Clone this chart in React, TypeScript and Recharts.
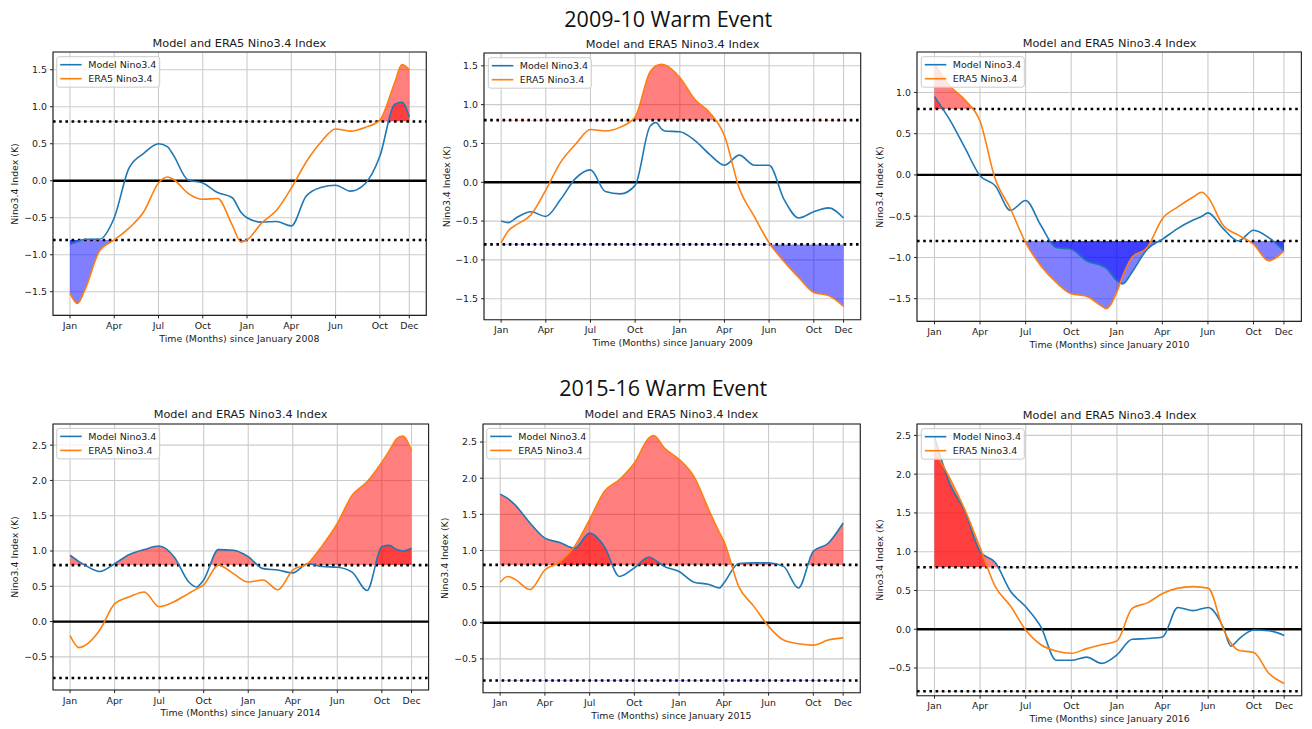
import React from 'react';
import {
  ComposedChart,
  Line,
  Area,
  XAxis,
  YAxis,
  CartesianGrid,
  ReferenceLine,
  ReferenceArea,
} from 'recharts';

// ---------- shared axis data ----------
const MONTH_TICKS = [0, 3, 6, 9, 12, 15, 18, 21, 23];
const MONTH_LABELS = ['Jan', 'Apr', 'Jul', 'Oct', 'Jan', 'Apr', 'Jun', 'Oct', 'Dec'];
const TICKS_A = [-1.5, -1, -0.5, 0, 0.5, 1, 1.5];
const TICKS_B = [-1.5, -1, -0.5, 0, 0.5, 1];
const TICKS_C = [-0.5, 0, 0.5, 1, 1.5, 2, 2.5];
const THRESHOLD = 0.8;
const SUPTITLES = ['2009-10 Warm Event', '2015-16 Warm Event'];
const PANEL_TITLE = 'Model and ERA5 Nino3.4 Index';
const Y_LABEL = 'Nino3.4 Index (K)';
const SERIES_NAMES = ['Model Nino3.4', 'ERA5 Nino3.4'];

// ---------- panel 1: since January 2008 ----------
const P1_T = [0, 0.5, 1, 2, 3, 4, 5, 6, 6.6, 7, 8, 9, 10, 11, 11.6, 12, 13, 14, 15, 16, 17, 18, 19, 20, 21, 22, 22.5, 23];
const P1_MODEL = [-0.86, -0.82, -0.79, -0.79, -0.5, 0.17, 0.37, 0.5, 0.46, 0.35, 0.01, -0.03, -0.16, -0.23, -0.43, -0.5, -0.56, -0.55, -0.61, -0.21, -0.09, -0.06, -0.14, -0.04, 0.33, 1.03, 1.06, 0.86];
const P1_ERA5 = [-1.52, -1.66, -1.48, -0.95, -0.8, -0.64, -0.42, -0.03, 0.05, 0.02, -0.17, -0.25, -0.24, -0.6, -0.83, -0.8, -0.57, -0.4, -0.1, 0.25, 0.52, 0.7, 0.67, 0.72, 0.82, 1.32, 1.57, 1.5];

// ---------- panel 2: since January 2009 ----------
const P2_T = [0, 0.5, 1, 2, 3, 4, 5, 6, 7, 8, 9, 10, 10.4, 10.8, 11, 12, 13, 14, 15, 16, 17, 18, 19, 20, 21, 22, 23];
const P2_MODEL = [-0.5, -0.52, -0.46, -0.38, -0.44, -0.22, 0.05, 0.16, -0.12, -0.15, -0.04, 0.72, 0.77, 0.68, 0.66, 0.65, 0.54, 0.36, 0.22, 0.35, 0.22, 0.22, -0.22, -0.46, -0.38, -0.33, -0.46];
const P2_ERA5 = [-0.78, -0.62, -0.55, -0.42, -0.1, 0.26, 0.49, 0.68, 0.66, 0.71, 0.84, 1.42, 1.5, 1.52, 1.51, 1.35, 1.07, 0.9, 0.6, -0.08, -0.44, -0.78, -1.02, -1.23, -1.42, -1.46, -1.6];

// ---------- panel 3: since January 2010 ----------
const P3_T = [0, 1, 2, 3, 4, 5, 6, 7, 8, 9, 10, 11, 11.3, 12, 12.4, 13, 14, 15, 16, 17, 17.6, 18, 19, 20, 21, 22, 23];
const P3_MODEL = [0.95, 0.67, 0.33, -0.01, -0.13, -0.43, -0.31, -0.61, -0.88, -0.9, -1.04, -1.1, -1.13, -1.28, -1.32, -1.18, -0.9, -0.78, -0.65, -0.55, -0.5, -0.46, -0.65, -0.8, -0.67, -0.76, -0.92];
const P3_ERA5 = [1.35, 1.08, 0.91, 0.65, -0.05, -0.41, -0.82, -1.1, -1.3, -1.44, -1.47, -1.59, -1.62, -1.42, -1.22, -1.0, -0.88, -0.53, -0.39, -0.27, -0.21, -0.27, -0.61, -0.73, -0.84, -1.04, -0.92];

// ---------- panel 4: since January 2014 ----------
const P4_T = [0, 0.6, 1, 2, 3, 4, 5, 6, 7, 8, 8.5, 9, 10, 11, 12, 13, 14, 15, 16, 17, 18, 19, 20, 21, 21.5, 22, 22.4, 23];
const P4_MODEL = [0.94, 0.85, 0.8, 0.71, 0.82, 0.95, 1.02, 1.07, 0.92, 0.56, 0.49, 0.59, 1.02, 1.01, 0.92, 0.75, 0.73, 0.69, 0.82, 0.78, 0.77, 0.7, 0.44, 1.06, 1.08, 1.02, 1.0, 1.04];
const P4_ERA5 = [-0.2, -0.37, -0.34, -0.12, 0.25, 0.35, 0.42, 0.21, 0.28, 0.4, 0.46, 0.52, 0.8, 0.68, 0.56, 0.59, 0.45, 0.73, 0.82, 1.08, 1.39, 1.79, 1.98, 2.26, 2.42, 2.59, 2.63, 2.42];

// ---------- panel 5: since January 2015 ----------
const P5_T = [0, 0.5, 1, 2, 3, 4, 5, 6, 7, 8, 9, 10, 10.3, 11, 12, 13, 14, 14.7, 15, 16, 17, 18, 19, 20, 21, 22, 23];
const P5_MODEL = [1.78, 1.72, 1.63, 1.38, 1.17, 1.11, 1.03, 1.24, 1.05, 0.64, 0.76, 0.91, 0.88, 0.78, 0.71, 0.56, 0.53, 0.48, 0.55, 0.82, 0.83, 0.83, 0.78, 0.48, 0.99, 1.1, 1.38];
const P5_ERA5 = [0.56, 0.64, 0.6, 0.46, 0.73, 0.84, 1.06, 1.43, 1.82, 1.98, 2.21, 2.56, 2.59, 2.42, 2.26, 2.02, 1.56, 1.25, 1.13, 0.5, 0.23, -0.05, -0.24, -0.29, -0.31, -0.24, -0.21];

// ---------- panel 6: since January 2016 ----------
const P6_T = [0, 1, 2, 3, 4, 5, 6, 7, 8, 9, 10, 11, 12, 13, 14, 15, 16, 17, 18, 19, 19.5, 20, 21, 22, 23];
const P6_MODEL = [2.48, 1.88, 1.52, 1.0, 0.86, 0.49, 0.29, 0.03, -0.4, -0.4, -0.36, -0.44, -0.33, -0.13, -0.12, -0.1, 0.28, 0.24, 0.28, 0.02, -0.22, -0.13, -0.01, -0.02, -0.08];
const P6_ERA5 = [2.3, 1.95, 1.54, 1.05, 0.55, 0.3, -0.01, -0.2, -0.28, -0.31, -0.25, -0.2, -0.15, 0.27, 0.34, 0.46, 0.53, 0.55, 0.53, 0.0, -0.18, -0.27, -0.3, -0.57, -0.7];

const X_DOMAIN: [number, number] = [-1.15, 24.15];
const FONT = "'DejaVu Sans', sans-serif";
const BLUE = '#1f77b4';
const ORANGE = '#ff7f0e';

type PanelSpec = {
  id: string;
  box: [number, number, number, number];
  yDomain: [number, number];
  yTicks: number[];
  t: number[];
  model: number[];
  era5: number[];
  year: string;
};

const PANELS: PanelSpec[] = [
  { id: 'p1', box: [52.7, 52.3, 426, 315.7], yDomain: [-1.82, 1.74], yTicks: TICKS_A, t: P1_T, model: P1_MODEL, era5: P1_ERA5, year: '2008' },
  { id: 'p2', box: [484.3, 53.3, 861, 320], yDomain: [-1.77, 1.665], yTicks: TICKS_A, t: P2_T, model: P2_MODEL, era5: P2_ERA5, year: '2009' },
  { id: 'p3', box: [917.3, 52.3, 1301.7, 321.7], yDomain: [-1.775, 1.49], yTicks: TICKS_B, t: P3_T, model: P3_MODEL, era5: P3_ERA5, year: '2010' },
  { id: 'p4', box: [52.7, 424, 428.3, 690], yDomain: [-0.97, 2.8], yTicks: TICKS_C, t: P4_T, model: P4_MODEL, era5: P4_ERA5, year: '2014' },
  { id: 'p5', box: [482.7, 424, 860, 692.7], yDomain: [-0.968, 2.75], yTicks: TICKS_C, t: P5_T, model: P5_MODEL, era5: P5_ERA5, year: '2015' },
  { id: 'p6', box: [917.3, 424.3, 1302, 696], yDomain: [-0.857, 2.647], yTicks: TICKS_C, t: P6_T, model: P6_MODEL, era5: P6_ERA5, year: '2016' },
];

function fmtY(v: number): string {
  const s = Math.abs(v).toFixed(1);
  return v < 0 ? '\u2212' + s : s;
}

function fmtX(v: number): string {
  const i = MONTH_TICKS.indexOf(v);
  return i >= 0 ? MONTH_LABELS[i] : '';
}

const clipShape = (cid: string) => (p: any) => (
  <defs>
    <clipPath id={cid}>
      <rect x={p.x} y={p.y} width={p.width} height={p.height} />
    </clipPath>
  </defs>
);

const L = 50;
const T = 10;
const R = 10;
const B = 28;
const Y_AXIS_W = 44;
const X_AXIS_H = 22;

function Panel({ spec }: { spec: PanelSpec }) {
  const [x0, y0, x1, y1] = spec.box;
  const W = x1 - x0 + L + R;
  const H = y1 - y0 + T + B;
  const data = spec.t.map((t, i) => ({ t, model: spec.model[i], era5: spec.era5[i] }));
  const id = spec.id;
  const tickStyle = { fontSize: 9.4, fill: '#1a1a1a', fontFamily: FONT };
  return (
    <div style={{ position: 'absolute', left: x0 - L, top: y0 - T, width: W, height: H }}>
      <ComposedChart
        width={W}
        height={H}
        data={data}
        margin={{ top: T, right: R, bottom: B - X_AXIS_H, left: L - Y_AXIS_W }}
      >
        <CartesianGrid stroke="#cbcbcb" strokeWidth={1.1} />
        <XAxis
          type="number"
          dataKey="t"
          domain={X_DOMAIN}
          ticks={MONTH_TICKS}
          interval={0}
          tickFormatter={fmtX}
          allowDataOverflow
          height={X_AXIS_H}
          tickSize={3}
          tickMargin={4}
          axisLine={false}
          tickLine={{ stroke: '#222' }}
          tick={tickStyle}
        />
        <YAxis
          type="number"
          domain={spec.yDomain}
          ticks={spec.yTicks}
          interval={0}
          tickFormatter={fmtY}
          allowDataOverflow
          width={Y_AXIS_W}
          tickSize={3}
          tickMargin={3}
          axisLine={false}
          tickLine={{ stroke: '#222' }}
          tick={tickStyle}
        />
        <ReferenceArea
          x1={X_DOMAIN[0]}
          x2={X_DOMAIN[1]}
          y1={THRESHOLD}
          y2={spec.yDomain[1]}
          ifOverflow="visible"
          shape={clipShape(`${id}-posclip`)}
        />
        <ReferenceArea
          x1={X_DOMAIN[0]}
          x2={X_DOMAIN[1]}
          y1={spec.yDomain[0]}
          y2={-THRESHOLD}
          ifOverflow="visible"
          shape={clipShape(`${id}-negclip`)}
        />
        <Area
          type="monotone"
          dataKey="era5"
          baseValue={THRESHOLD}
          stroke="none"
          fill="#ff0000"
          fillOpacity={0.5}
          className={`${id}-pos`}
          clipPath={`url(#${id}-posclip)`}
          dot={false}
          activeDot={false}
          isAnimationActive={false}
        />
        <Area
          type="monotone"
          dataKey="model"
          baseValue={THRESHOLD}
          stroke="none"
          fill="#ff0000"
          fillOpacity={0.5}
          className={`${id}-pos`}
          clipPath={`url(#${id}-posclip)`}
          dot={false}
          activeDot={false}
          isAnimationActive={false}
        />
        <Area
          type="monotone"
          dataKey="era5"
          baseValue={-THRESHOLD}
          stroke="none"
          fill="#0000ff"
          fillOpacity={0.5}
          className={`${id}-neg`}
          clipPath={`url(#${id}-negclip)`}
          dot={false}
          activeDot={false}
          isAnimationActive={false}
        />
        <Area
          type="monotone"
          dataKey="model"
          baseValue={-THRESHOLD}
          stroke="none"
          fill="#0000ff"
          fillOpacity={0.5}
          className={`${id}-neg`}
          clipPath={`url(#${id}-negclip)`}
          dot={false}
          activeDot={false}
          isAnimationActive={false}
        />
        <ReferenceLine y={0} stroke="#000" strokeWidth={2.3} ifOverflow="visible" />
        <ReferenceLine y={THRESHOLD} stroke="#000" strokeWidth={2.6} strokeDasharray="2.6 3.6" ifOverflow="visible" />
        <ReferenceLine y={-THRESHOLD} stroke="#000" strokeWidth={2.6} strokeDasharray="2.6 3.6" ifOverflow="visible" />
        <Line type="monotone" dataKey="model" stroke={BLUE} strokeWidth={1.6} dot={false} activeDot={false} isAnimationActive={false} />
        <Line type="monotone" dataKey="era5" stroke={ORANGE} strokeWidth={1.6} dot={false} activeDot={false} isAnimationActive={false} />
        <ReferenceArea
          x1={X_DOMAIN[0]}
          x2={X_DOMAIN[1]}
          y1={spec.yDomain[0]}
          y2={spec.yDomain[1]}
          ifOverflow="visible"
          fill="none"
          fillOpacity={0}
          stroke="#222"
          strokeWidth={1.1}
        />
      </ComposedChart>
    </div>
  );
}

function PanelText({ spec }: { spec: PanelSpec }) {
  const [x0, y0, x1, y1] = spec.box;
  const cx = (x0 + x1) / 2;
  const cy = (y0 + y1) / 2;
  const lx = x0 + 4;
  const ly = y0 + 4.4;
  return (
    <g fontFamily={FONT} fill="#1a1a1a">
      <text x={cx} y={y0 - 5.6} fontSize={11.3} textAnchor="middle">
        {PANEL_TITLE}
      </text>
      <text x={cx} y={y1 + 26} fontSize={9.4} textAnchor="middle">
        {`Time (Months) since January ${spec.year}`}
      </text>
      <text
        transform={`translate(${x0 - 38}, ${cy}) rotate(-90)`}
        fontSize={9.4}
        textAnchor="middle"
        dominantBaseline="central"
      >
        {Y_LABEL}
      </text>
      <rect x={lx} y={ly} width={103} height={30.5} rx={2.5} fill="#ffffff" fillOpacity={0.8} stroke="#cccccc" strokeWidth={1} />
      <line x1={lx + 3.5} x2={lx + 25} y1={ly + 8} y2={ly + 8} stroke={BLUE} strokeWidth={1.6} />
      <text x={lx + 31.5} y={ly + 11.6} fontSize={9.5}>
        {SERIES_NAMES[0]}
      </text>
      <line x1={lx + 3.5} x2={lx + 25} y1={ly + 22} y2={ly + 22} stroke={ORANGE} strokeWidth={1.6} />
      <text x={lx + 31.5} y={ly + 25.6} fontSize={9.5}>
        {SERIES_NAMES[1]}
      </text>
    </g>
  );
}

const CSS = PANELS.map(
  (p) =>
    `.${p.id}-pos .recharts-area-area{clip-path:url(#${p.id}-posclip);} .${p.id}-neg .recharts-area-area{clip-path:url(#${p.id}-negclip);}`
).join('\n');

export default function App() {
  return (
    <div style={{ position: 'absolute', left: 0, top: 0, width: 1312, height: 729, background: '#ffffff', overflow: 'hidden' }}>
      <style>{CSS}</style>
      {PANELS.map((p) => (
        <Panel key={p.id} spec={p} />
      ))}
      <svg
        width={1312}
        height={729}
        style={{ position: 'absolute', left: 0, top: 0, pointerEvents: 'none' }}
      >
        <text x={668.3} y={26.7} fontSize={21.5} fontFamily="'Open Sans', sans-serif" textAnchor="middle" fill="#111">
          {SUPTITLES[0]}
        </text>
        <text x={663.3} y={396} fontSize={21.5} fontFamily="'Open Sans', sans-serif" textAnchor="middle" fill="#111">
          {SUPTITLES[1]}
        </text>
        {PANELS.map((p) => (
          <PanelText key={p.id} spec={p} />
        ))}
      </svg>
    </div>
  );
}
